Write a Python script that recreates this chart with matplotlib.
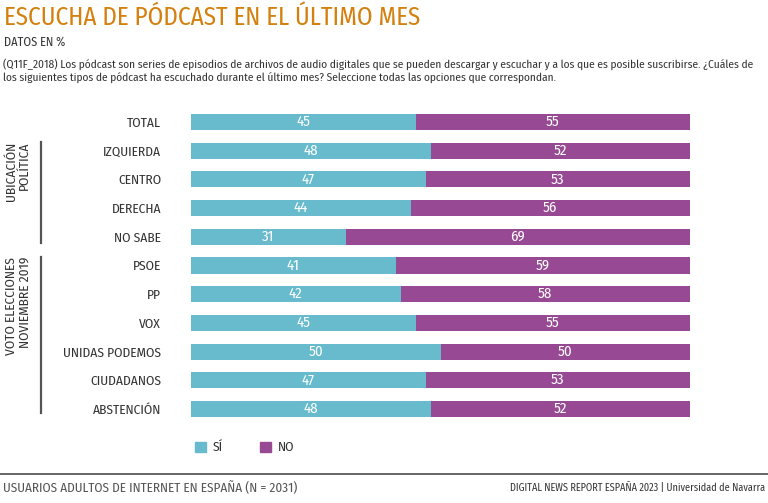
import matplotlib
matplotlib.use("Agg")
import matplotlib.pyplot as plt
from matplotlib.patches import Rectangle
from matplotlib.lines import Line2D

plt.rcParams['font.family'] = ['Fira Sans Condensed', 'Roboto Condensed', 'DejaVu Sans']
plt.rcParams['font.weight'] = 'normal'

categories = ["TOTAL", "IZQUIERDA", "CENTRO", "DERECHA", "NO SABE", "PSOE", "PP",
              "VOX", "UNIDAS PODEMOS", "CIUDADANOS", "ABSTENCIÓN"]
si = [45, 48, 47, 44, 31, 41, 42, 45, 50, 47, 48]
no = [55, 52, 53, 56, 69, 59, 58, 55, 50, 53, 52]
series_names = ["SÍ", "NO"]

TEAL = "#67BBCC"
PURPLE = "#974A93"
ORANGE = "#D4800E"
DARK = "#333333"
W, H = 768, 503

fig = plt.figure(figsize=(W / 100, H / 100), dpi=100)
fig.patch.set_facecolor("white")
renderer = fig.canvas.get_renderer()


def fx(px):
    return px / W


def fy(py):
    return 1 - py / H


def fit(t, target_px):
    """Scale a text's font size so its width matches target_px."""
    for _ in range(3):
        w = t.get_window_extent(renderer=renderer).width
        if w <= 0:
            break
        t.set_fontsize(t.get_fontsize() * target_px / w)
    return t


def fit_size(s, target_px, start=10):
    t = fig.text(0, 0, s, fontsize=start)
    fit(t, target_px)
    size = t.get_fontsize()
    t.remove()
    return size


row = 28.7
top_c, n = 122, len(categories)
y_top = top_c - row / 2
y_bot = top_c + (n - 1) * row + row / 2
ax = fig.add_axes([fx(191), fy(y_bot), fx(690) - fx(191), fy(y_top) - fy(y_bot)])

label_size = fit_size("UNIDAS PODEMOS", 98)
num_size = fit_size("45", 14)

ypos = list(range(n))
ax.barh(ypos, si, height=0.56, color=TEAL, edgecolor="none")
ax.barh(ypos, no, left=si, height=0.56, color=PURPLE, edgecolor="none")
for i in ypos:
    ax.text(si[i] / 2, i, str(si[i]), ha="center", va="center", color="white", fontsize=num_size)
    ax.text(si[i] + no[i] / 2, i, str(no[i]), ha="center", va="center", color="white", fontsize=num_size)
ax.set_xlim(0, 100)
ax.set_ylim(n - 0.5, -0.5)
ax.set_yticks(ypos)
ax.set_yticklabels(categories, fontsize=label_size, color=DARK)
ax.tick_params(axis="y", length=0, pad=21.5)
ax.set_xticks([])
for s in ax.spines.values():
    s.set_visible(False)

# Title & texts
fit(fig.text(fx(4), fy(18), "ESCUCHA DE PÓDCAST EN EL ÚLTIMO MES", color=ORANGE, fontsize=18,
             va="center", ha="left"), 416)
fit(fig.text(fx(4), fy(42), "DATOS EN %", color=DARK, fontsize=9, va="center"), 62)
body_size = fit_size("(Q11F_2018) Los pódcast son series de episodios de archivos de audio digitales que se pueden descargar y escuchar y a los que es posible suscribirse. ¿Cuáles de", 750)
fig.text(fx(3), fy(71),
         "(Q11F_2018) Los pódcast son series de episodios de archivos de audio digitales que se pueden descargar y escuchar y a los que es posible suscribirse. ¿Cuáles de\n"
         "los siguientes tipos de pódcast ha escuchado durante el último mes? Seleccione todas las opciones que correspondan.",
         color=DARK, fontsize=body_size, va="center", linespacing=1.2)

# Group brackets
fig.add_artist(Line2D([fx(41), fx(41)], [fy(142), fy(243)], color="#555555", lw=1.6))
fig.add_artist(Line2D([fx(41), fx(41)], [fy(257), fy(413)], color="#555555", lw=1.6))
fig.text(fx(18), fy(142), "UBICACIÓN\nPOLÍTICA", rotation=90, ha="center", va="top",
         fontsize=label_size, color=DARK, linespacing=1.05, multialignment="right")
fig.text(fx(18), fy(257), "VOTO ELECCIONES\nNOVIEMBRE 2019", rotation=90, ha="center", va="top",
         fontsize=label_size, color=DARK, linespacing=1.05, multialignment="right")

# Legend
for xx, col, lab in [(195, TEAL, series_names[0]), (260, PURPLE, series_names[1])]:
    fig.add_artist(Rectangle((fx(xx), fy(452)), fx(11), fy(442) - fy(452), color=col,
                             transform=fig.transFigure))
    fig.text(fx(xx + 18), fy(447), lab, fontsize=label_size, va="center", color=DARK)

# Footer
fig.add_artist(Line2D([0, 1], [fy(474), fy(474)], color="#666666", lw=1.4))
fit(fig.text(fx(3), fy(488), "USUARIOS ADULTOS DE INTERNET EN ESPAÑA (N = 2031)", fontsize=10,
             color="#555555", va="center"), 295)
fit(fig.text(fx(765), fy(488), "DIGITAL NEWS REPORT ESPAÑA 2023 | Universidad de Navarra", fontsize=9,
             color=DARK, va="center", ha="right"), 255)

fig.savefig("out.png", dpi=100)
